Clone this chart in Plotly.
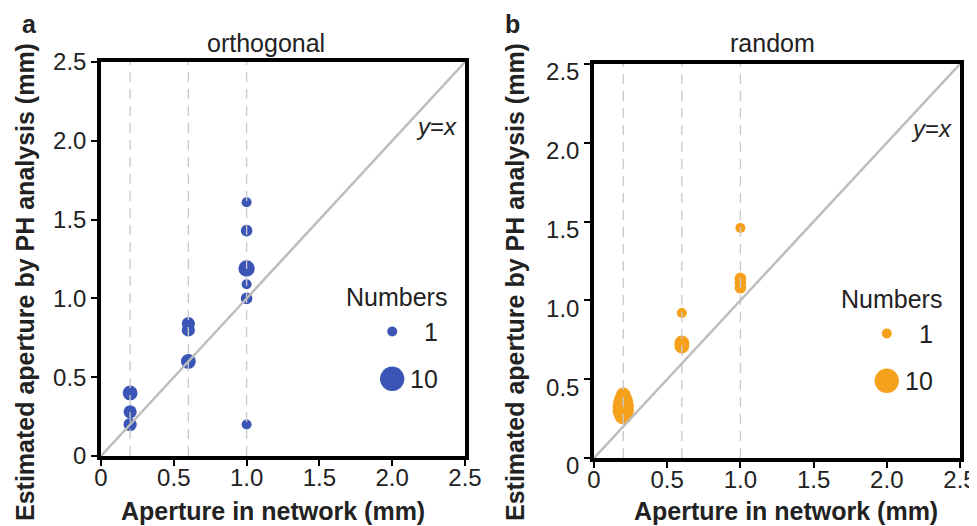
import plotly.graph_objects as go

# ---------------- data ----------------
# panel a : orthogonal
orth_x = [0.2, 0.2, 0.2, 0.6, 0.6, 0.6, 1.0, 1.0, 1.0, 1.0, 1.0, 1.0]
orth_y = [0.40, 0.28, 0.20, 0.84, 0.80, 0.60, 1.61, 1.43, 1.19, 1.09, 1.00, 0.20]
orth_n = [4, 3, 3, 3, 3, 4, 1, 2, 5, 1, 2, 1]

# panel b : random
rand_x = [0.2, 0.2, 0.2, 0.2, 0.2, 0.6, 0.6, 0.6, 1.0, 1.0, 1.0, 1.0]
rand_y = [0.40, 0.36, 0.33, 0.30, 0.27, 0.92, 0.73, 0.71, 1.46, 1.14, 1.11, 1.08]
rand_n = [4, 7, 8, 8, 6, 1, 4, 4, 1, 2, 2, 2]

network_apertures = [0.2, 0.6, 1.0]
axis_max = 2.5
tick_vals = [0, 0.5, 1.0, 1.5, 2.0, 2.5]
tick_text = ["0", "0.5", "1.0", "1.5", "2.0", "2.5"]
legend_counts = [1, 10]
legend_labels = ["1", "10"]
legend_y = [0.79, 0.49]

BLUE = "#3B55B6"
ORANGE = "#F6A11C"
GREY = "#BDBDBD"
DASH_GREY = "#C9C9C9"
TXT = "#222222"
FONT = "Liberation Sans, Arial, Helvetica, sans-serif"

# the page places the figure 8px in from the top-left corner (body margin)
OFF = 8
W, H = 977 - OFF, 526 - OFF


def px(x):
    return (x - OFF) / W


def py(y):
    return 1 - (y - OFF) / H


def msize(n):
    return 10 + 1.6 * (n - 1)


fig = go.Figure()

panels = [
    dict(x=orth_x, y=orth_y, n=orth_n, color=BLUE, xa="x", ya="y"),
    dict(x=rand_x, y=rand_y, n=rand_n, color=ORANGE, xa="x2", ya="y2"),
]

for p in panels:
    # data points
    fig.add_trace(go.Scatter(
        x=p["x"], y=p["y"], mode="markers", xaxis=p["xa"], yaxis=p["ya"],
        marker=dict(size=[msize(v) for v in p["n"]], color=p["color"], line=dict(width=0), opacity=1),
        showlegend=False, hoverinfo="skip"))
    # size legend dots
    fig.add_trace(go.Scatter(
        x=[2.0] * len(legend_counts), y=legend_y, mode="markers", xaxis=p["xa"], yaxis=p["ya"],
        marker=dict(size=[msize(v) for v in legend_counts], color=p["color"], line=dict(width=0), opacity=1),
        showlegend=False, hoverinfo="skip"))
    # vertical dashed lines at network apertures
    for a in network_apertures:
        fig.add_trace(go.Scatter(
            x=[a, a], y=[0, axis_max], mode="lines", xaxis=p["xa"], yaxis=p["ya"],
            line=dict(color=DASH_GREY, width=1.3, dash="10px,7px"),
            showlegend=False, hoverinfo="skip"))
    # y = x line
    fig.add_trace(go.Scatter(
        x=[0, axis_max], y=[0, axis_max], mode="lines", xaxis=p["xa"], yaxis=p["ya"],
        line=dict(color=GREY, width=2.5),
        showlegend=False, hoverinfo="skip"))

axis_common = dict(
    range=[0, axis_max], tickvals=tick_vals, ticktext=tick_text, automargin=False,
    showgrid=False, zeroline=False, showline=True, linecolor="black", linewidth=3.5,
    mirror=True, ticks="outside", ticklen=6, tickwidth=2, tickcolor="black",
    tickfont=dict(family=FONT, size=24, color=TXT),
)

fig.update_layout(
    template="none",
    width=W, height=H,
    margin=dict(l=0, r=0, t=0, b=0, pad=0, autoexpand=False),
    paper_bgcolor="white", plot_bgcolor="white",
    xaxis=dict(domain=[px(101), px(465)], anchor="y", ticklabelstandoff=-9, **axis_common),
    yaxis=dict(domain=[py(456), py(62)], anchor="x", **axis_common),
    xaxis2=dict(domain=[px(594), px(960)], anchor="y2", ticklabelstandoff=-9, **axis_common),
    yaxis2=dict(domain=[py(458), py(64)], anchor="x2", ticklabelshift=8, **axis_common),
    font=dict(family=FONT, color=TXT),
)

ann = []
for xa, ya, xcen, title, lab, labx in [
    ("x", "y", 266, "orthogonal", "a", 29),
    ("x2", "y2", 772, "random", "b", 512),
]:
    # size-legend texts
    ann.append(dict(x=2.03, y=1.01, xref=xa, yref=ya, text="Numbers", showarrow=False,
                    font=dict(size=25, family=FONT, color=TXT), xanchor="center", yanchor="middle"))
    for lt, ly in zip(legend_labels, legend_y):
        ann.append(dict(x=2.33, y=ly, xref=xa, yref=ya, text=lt, showarrow=False,
                        font=dict(size=25, family=FONT, color=TXT), xanchor="right", yanchor="middle"))
    ann.append(dict(x=2.46, y=2.09, xref=xa, yref=ya, text="<i>y</i>=<i>x</i>", showarrow=False,
                    font=dict(size=24, family=FONT, color=TXT), xanchor="right", yanchor="middle"))
    # panel titles and letters
    ann.append(dict(x=px(xcen), y=py(43), xref="paper", yref="paper", text=title,
                    showarrow=False, font=dict(size=25, family=FONT, color=TXT),
                    xanchor="center", yanchor="middle"))
    ann.append(dict(x=px(labx), y=py(24), xref="paper", yref="paper", text="<b>%s</b>" % lab,
                    showarrow=False, font=dict(size=25, family=FONT, color=TXT),
                    xanchor="center", yanchor="middle"))

for cx in [273, 786]:
    ann.append(dict(x=px(cx), y=py(511), xref="paper", yref="paper",
                    text="<b>Aperture in network (mm)</b>", showarrow=False,
                    font=dict(size=25, family=FONT, color=TXT), xanchor="center", yanchor="middle"))
for cx in [25, 515]:
    ann.append(dict(x=px(cx), y=py(282), xref="paper", yref="paper",
                    text="<b>Estimated aperture by PH analysis (mm)</b>", showarrow=False, textangle=-90,
                    font=dict(size=25, family=FONT, color=TXT), xanchor="center", yanchor="middle"))

fig.update_layout(annotations=ann)

fig.write_html("out.html")
